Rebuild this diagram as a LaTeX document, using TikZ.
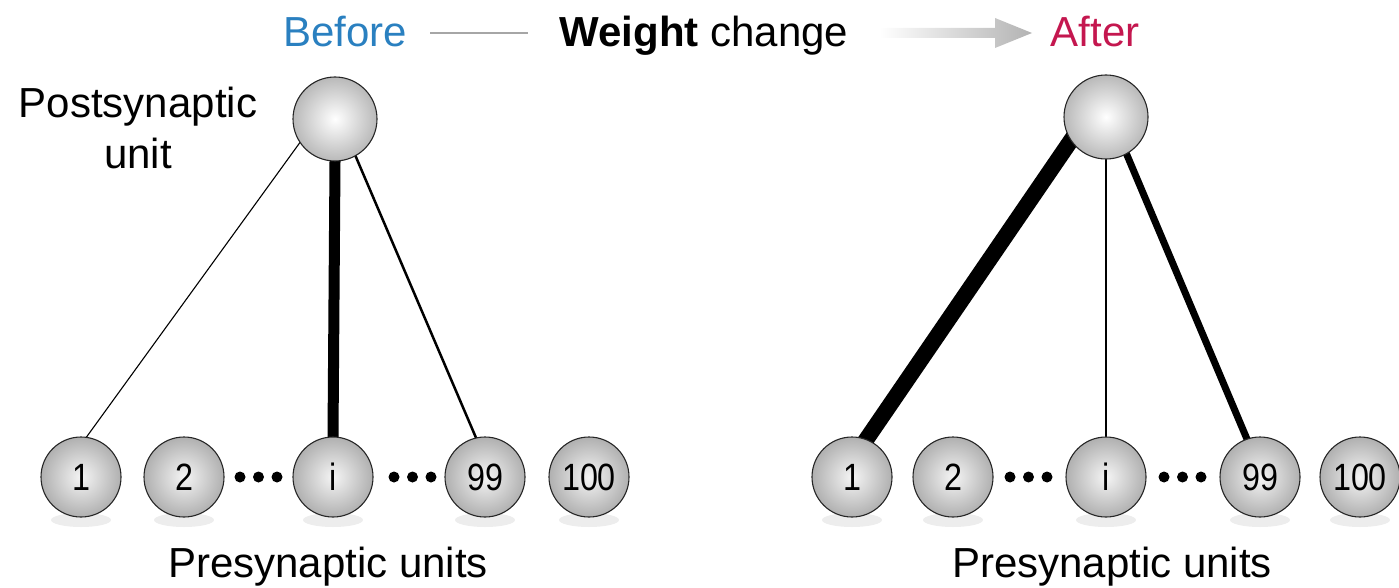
\documentclass[tikz,border=0pt]{standalone}
\usepackage{fontspec}
\setmainfont{Liberation Sans}
\usetikzlibrary{backgrounds}
\definecolor{beforeblue}{HTML}{2A80C0}
\definecolor{aftercrimson}{HTML}{C4174F}
\newcommand{\numtxt}[1]{\scalebox{0.85}[1]{#1}}
\tikzset{
  lbl/.style={font=\fontsize{42}{51}\selectfont, inner sep=0pt, anchor=base},
  pre/.style={circle, draw=black!85, line width=1.1pt, minimum size=80pt, inner sep=0pt,
    inner color=gray!8, outer color=gray!62, font=\fontsize{38}{38}\selectfont},
  post/.style={circle, draw=black!85, line width=1.1pt, minimum size=84pt, inner sep=0pt,
    inner color=white, outer color=gray!55},
  conn/.style={black, shorten <=-6pt, shorten >=-6pt},
  shadowell/.style={fill=gray!14},
  dotc/.style={circle, fill=black, minimum size=11pt, inner sep=0pt}
}
\begin{document}
\begin{tikzpicture}[x=1pt,y=-1pt]
\useasboundingbox (0,0) rectangle (1399,588);
% title
\node[lbl, text=beforeblue] (before) at (345,47) {Before};
\node[lbl] (wc) at (704,47) {\textbf{Weight} change};
\node[lbl, text=aftercrimson] (after) at (1095,47) {After};
\coordinate (ls) at (430,33);
\coordinate (le) at (528,33);
\draw[gray!70, line width=1.3pt] (ls) -- (le);
\shade[left color=white, right color=gray!60]
  (880,28) -- (995,28) -- (995,18) -- (1032,33) -- (995,48) -- (995,38) -- (880,38) -- cycle;
% left panel
\node[lbl, align=center, anchor=base] (postlbl) at (138,168) {Postsynaptic\\unit};
\foreach \x in {81,184,333,485,589} \fill[shadowell] (\x,520) ellipse [x radius=30, y radius=7];
\node[post] (Lpost) at (335,119) {};
\node[pre] (L1) at (81,477) {\numtxt{1}};
\node[pre] (L2) at (184,477) {\numtxt{2}};
\node[pre] (Li) at (333,477) {\numtxt{i}};
\node[pre] (L99) at (485,477) {\numtxt{99}};
\node[pre] (L100) at (589,477) {\numtxt{100}};
\foreach \x [count=\k] in {240,258.5,277,394,412.5,431} \node[dotc] (Ld\k) at (\x,477) {};
\node[lbl] (Lpre) at (328,577) {Presynaptic units};
% right panel
\foreach \x in {852,953,1106,1260,1360} \fill[shadowell] (\x,520) ellipse [x radius=30, y radius=7];
\node[post] (Rpost) at (1106,117) {};
\node[pre] (R1) at (852,477) {\numtxt{1}};
\node[pre] (R2) at (953,477) {\numtxt{2}};
\node[pre] (Ri) at (1106,477) {\numtxt{i}};
\node[pre] (R99) at (1260,477) {\numtxt{99}};
\node[pre] (R100) at (1360,477) {\numtxt{100}};
\foreach \x [count=\k] in {1010,1028.5,1047,1164,1182.5,1201} \node[dotc] (Rd\k) at (\x,477) {};
\node[lbl] (Rpre) at (1112,577) {Presynaptic units};
\begin{pgfonlayer}{background}
\draw[conn, line width=1.1pt] (Lpost.214) -- (L1.82);
\draw[conn, line width=11pt] (Lpost.south) -- (Li.north);
\draw[conn, line width=2.5pt] (Lpost.299) -- (L99.103);
\draw[conn, line width=16pt] (Rpost.214) -- (R1.69);
\draw[conn, line width=1.2pt] (Rpost.south) -- (Ri.north);
\draw[conn, line width=7pt] (Rpost.299) -- (R99.109);
\end{pgfonlayer}
\end{tikzpicture}
\end{document}
